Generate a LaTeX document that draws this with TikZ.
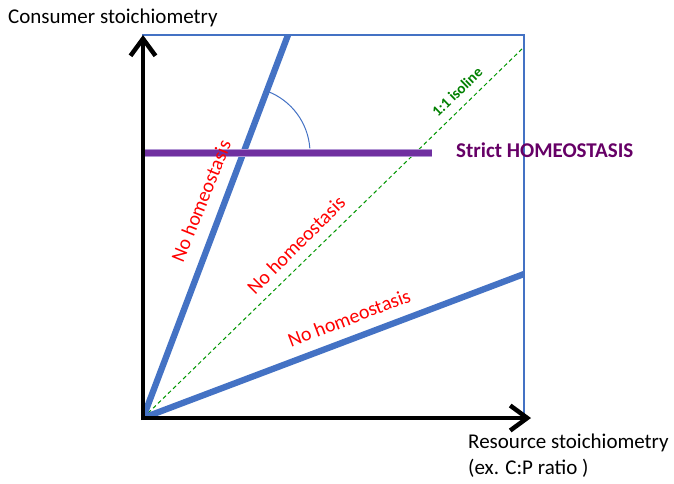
\documentclass[tikz,border=0pt]{standalone}
\usepackage{fontspec}
\setmainfont{Carlito}
\usepackage{xcolor}
\usepackage{tikz}
\usetikzlibrary{arrows.meta}
\definecolor{trendblue}{RGB}{68,114,196}
\definecolor{homeopurple}{RGB}{112,48,160}
\definecolor{homeoedge}{RGB}{178,150,212}
\definecolor{homeotext}{RGB}{102,0,102}
\definecolor{isogreen}{RGB}{0,150,0}
\definecolor{isotext}{RGB}{0,128,0}
\definecolor{nored}{RGB}{255,0,0}

\begin{document}
\begin{tikzpicture}[
  x=1pt, y=-1pt,
  txt/.style={inner sep=0pt, font=\fontsize{21}{26}\selectfont},
  axis/.style={line width=4.5pt, draw=black, -{Straight Barb[length=17pt, width=25pt]}},
  trend/.style={line width=6.3pt, draw=trendblue},
  plotframe/.style={line width=1.3pt, draw=trendblue},
  isoline/.style={line width=1pt, draw=isogreen, dash pattern=on 4pt off 3pt},
  homeo/.style={line width=1pt, draw=homeoedge, double=homeopurple, double distance=6pt},
  anglearc/.style={line width=1pt, draw=trendblue},
  nolabel/.style={txt, font=\fontsize{20}{24}\selectfont, text=nored},
  homeolabel/.style={txt, font=\fontsize{21}{26}\selectfont\bfseries, text=homeotext},
  isolabel/.style={txt, font=\fontsize{15}{18}\selectfont\bfseries, text=isotext}
]
  \useasboundingbox (0,0) rectangle (674,483);
  % plot area
  \coordinate (O) at (143,418);
  \coordinate (corner) at (524,35);
  \coordinate (steep) at (288,35);
  \coordinate (shallow) at (524,274);
  \coordinate (diag) at (524,47);
  \coordinate (hstart) at (143,153);
  \coordinate (hend) at (432,153);
  \coordinate (cross) at (244,153);
  \coordinate (ybase) at (143,420);
  \coordinate (ytip) at (143,35);
  \coordinate (xbase) at (141,418);
  \coordinate (xtip) at (531,418);
  \draw[plotframe] (O) rectangle (corner);
  \draw[isoline] (O) -- (diag);
  \begin{scope}
    \clip (O) rectangle (corner);
    \draw[trend] (O) -- (steep);
    \draw[trend] (O) -- (shallow);
  \end{scope}
  \draw[homeo] (hstart) -- (hend);
  \draw[anglearc] (cross) ++(-4:66) arc[start angle=-4, end angle=-69, radius=66];
  % axes
  \draw[axis] (ybase) -- (ytip);
  \draw[axis] (xbase) -- (xtip);
  % labels
  \node[txt, anchor=west] (consumer) at (8,17.5) {Consumer stoichiometry};
  \node[txt, anchor=north west, align=left] (resource) at (468,434) {Resource stoichiometry\\(ex. C:P ratio )};
  \node[homeolabel, anchor=west] (strict) at (456,150) {Strict HOMEOSTASIS};
  \node[isolabel, rotate=44] (iso) at (457,92) {1:1 isoline};
  \node[nolabel, rotate=68] (nosteep) at (201,201) {No homeostasis};
  \node[nolabel, rotate=45] (nodiag) at (296,245) {No homeostasis};
  \node[nolabel, rotate=21] (noshallow) at (349,318) {No homeostasis};
\end{tikzpicture}
\end{document}
